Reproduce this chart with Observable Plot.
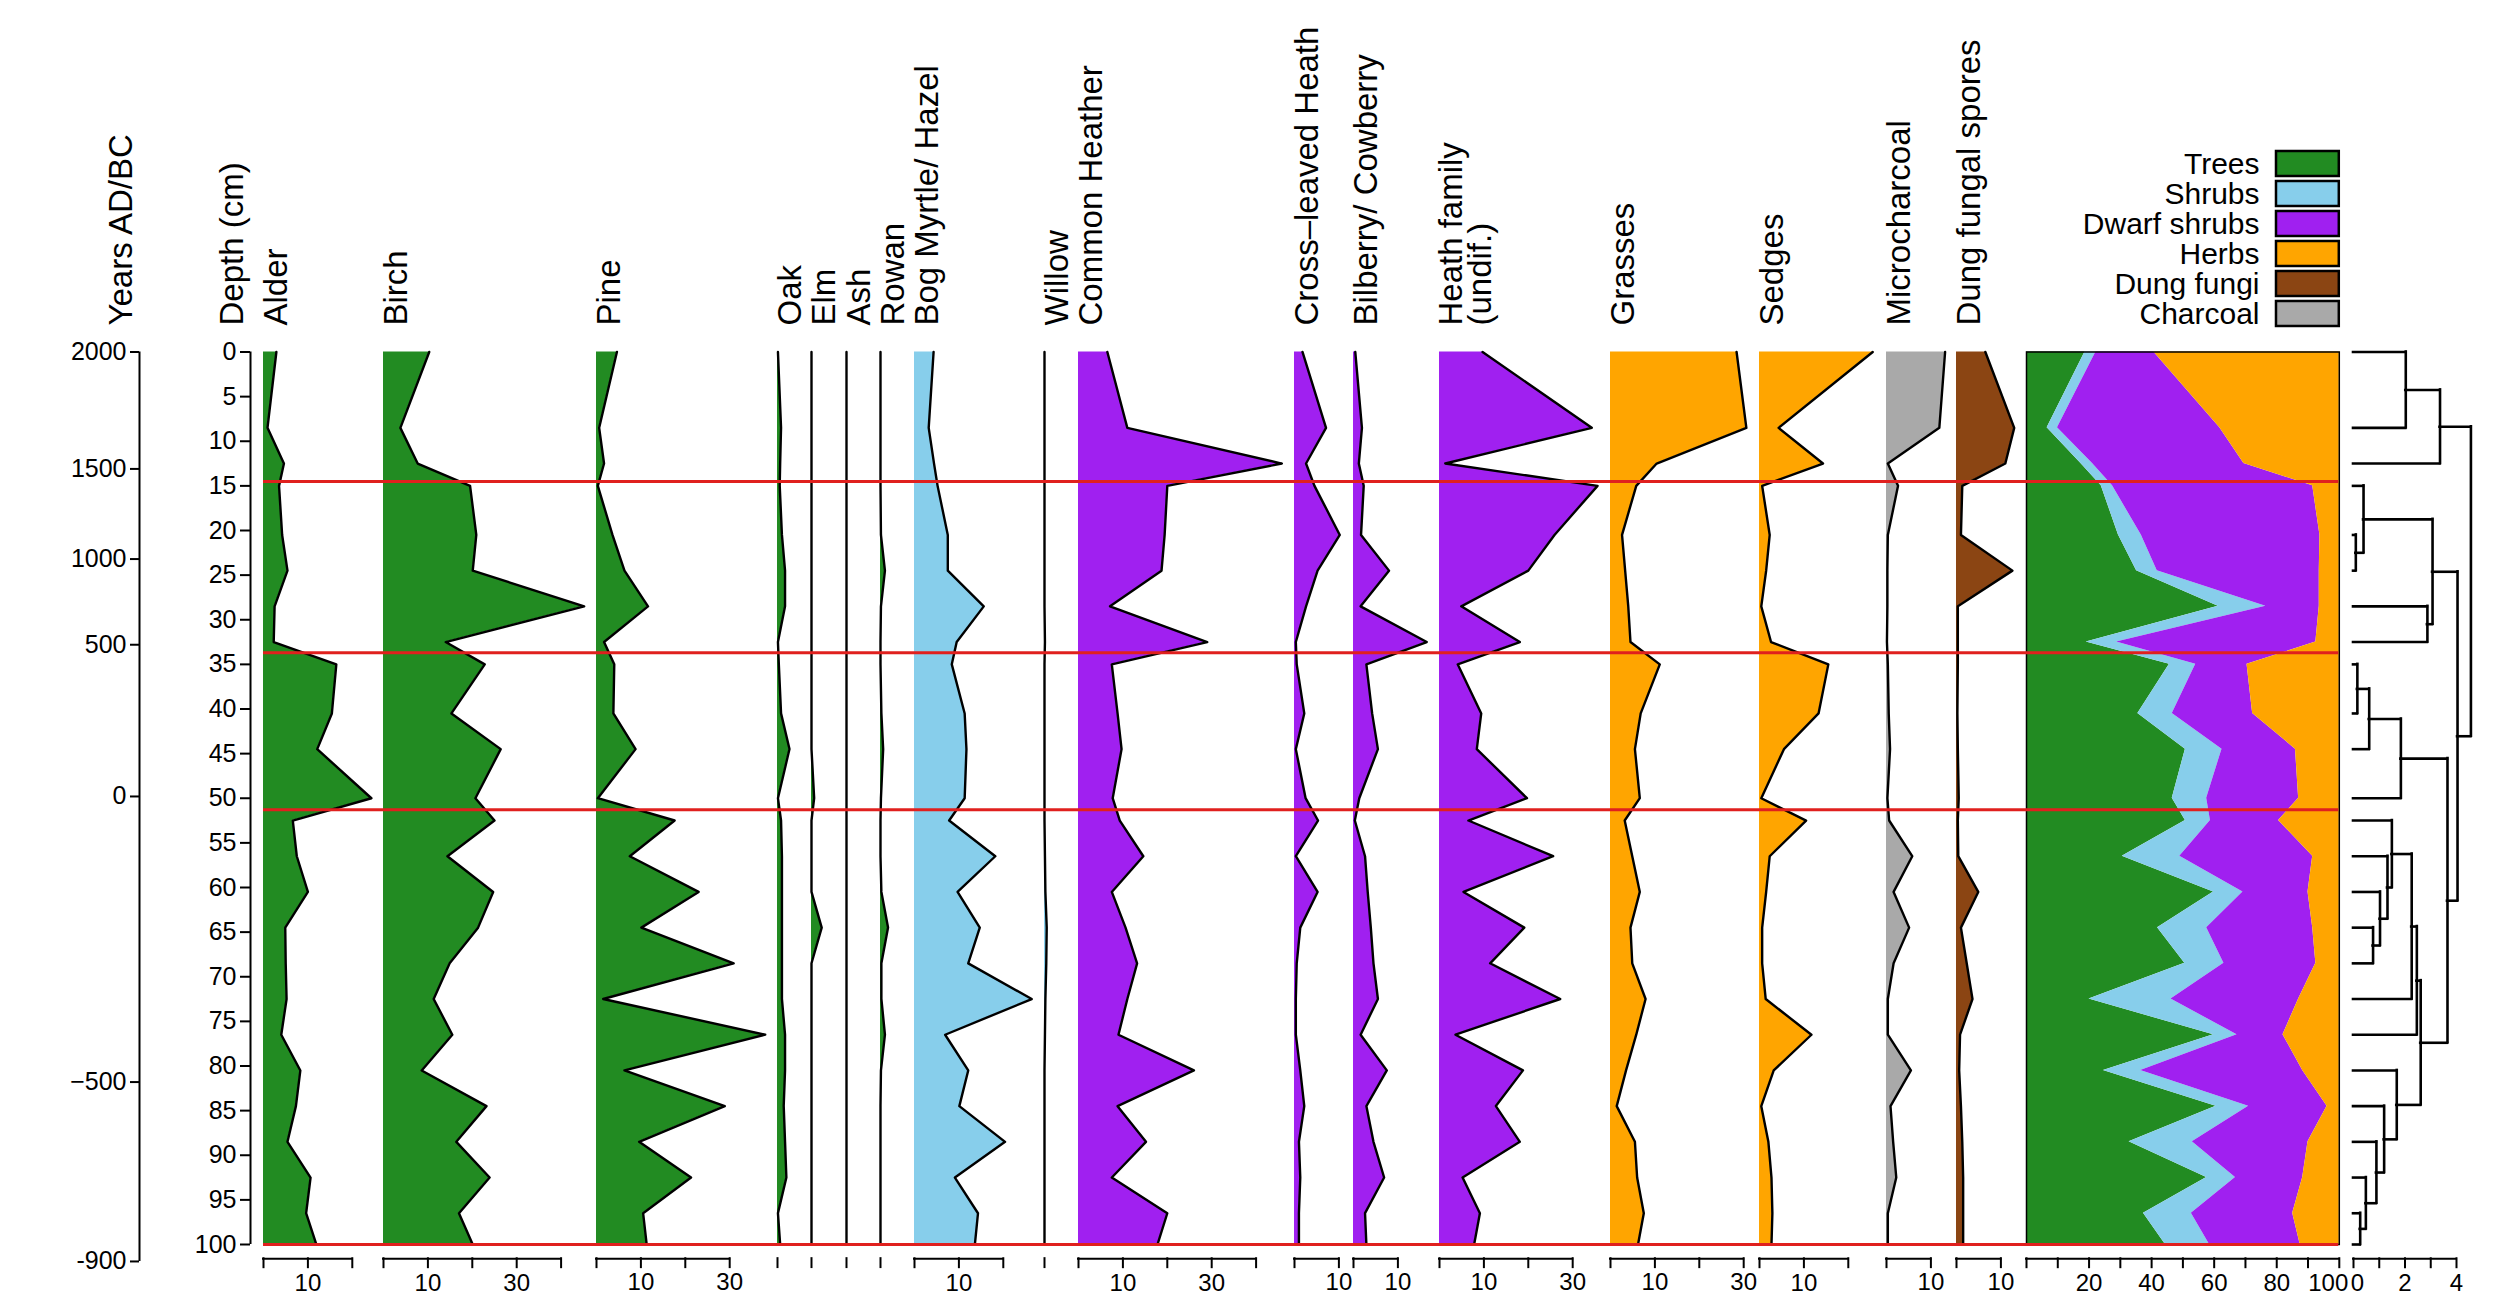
<!DOCTYPE html>
<html><head><meta charset="utf-8">
<script src="https://cdn.jsdelivr.net/npm/d3@7"></script>
<script src="https://cdn.jsdelivr.net/npm/@observablehq/plot@0.6"></script>
<style>
body{margin:0;background:#fff;}
#chart{position:relative;width:2500px;height:1310px;background:#fff;overflow:hidden;}
#chart > div{position:absolute;top:0;}
</style></head><body><div id="chart"></div>
<script>
// ---------- data ----------
const depths = [0, 8.5, 12.5, 15, 20.5, 24.5, 28.5, 32.5, 35, 40.5, 44.5, 50, 52.5, 56.5, 60.5, 64.5, 68.5, 72.5, 76.5, 80.5, 84.5, 88.5, 92.5, 96.5, 100];
const alder = [2.9, 0.9, 4.6, 3.5, 4.2, 5.4, 2.5, 2.3, 16.4, 15.4, 12.1, 24.3, 6.6, 7.5, 10.0, 4.9, 5.0, 5.2, 4.0, 8.3, 7.3, 5.4, 10.6, 9.6, 11.9];
const birch = [10.3, 3.8, 7.7, 19.5, 20.9, 20.1, 45.2, 14.0, 22.8, 15.3, 26.4, 20.7, 25.0, 14.4, 24.7, 21.3, 14.9, 11.3, 15.5, 8.6, 23.2, 16.4, 23.9, 17.0, 20.1];
const pine = [4.6, 0.6, 1.7, 0.3, 3.6, 6.3, 11.6, 1.7, 4.0, 3.8, 8.8, 0.3, 17.6, 7.5, 23.0, 10.1, 30.9, 1.5, 38.0, 6.3, 28.9, 9.6, 21.3, 10.5, 11.3];
const oak = [0.1, 0.8, 0.6, 0.5, 1.0, 1.7, 1.7, 0.1, 0.3, 0.8, 2.7, 0.1, 0.8, 1.0, 1.0, 1.0, 1.0, 1.0, 1.7, 1.7, 1.4, 1.7, 2.0, 0.1, 0.6];
const elm = [0, 0, 0, 0, 0, 0, 0, 0, 0, 0, 0, 0.6, 0, 0, 0, 2.3, 0, 0, 0, 0, 0, 0, 0, 0, 0];
const ash = [0, 0, 0, 0, 0, 0, 0, 0, 0, 0, 0, 0, 0, 0, 0, 0, 0, 0, 0, 0, 0, 0, 0, 0, 0];
const rowan = [0, 0, 0, 0, 0.1, 1.0, 0.1, 0, 0, 0.2, 0.6, 0.1, 0, 0, 0.2, 1.7, 0.2, 0.2, 1.0, 0.1, 0, 0, 0, 0, 0];
const bogMyrtleHazel = [4.3, 3.2, 4.4, 5.2, 7.5, 7.5, 15.6, 9.5, 8.4, 11.3, 11.7, 11.3, 7.8, 18.2, 9.7, 14.7, 12.1, 26.4, 6.9, 12.1, 10.1, 20.4, 9.1, 14.3, 13.6];
const willow = [0, 0, 0, 0, 0, 0, 0, 0.1, 0, 0, 0, 0, 0, 0.1, 0.2, 0.5, 0.4, 0.2, 0.1, 0, 0, 0, 0, 0, 0];
const commonHeather = [6.5, 11.0, 45.8, 20.0, 19.4, 18.7, 7.1, 29.0, 7.5, 8.8, 9.7, 7.7, 9.3, 14.6, 7.5, 10.6, 13.2, 11.0, 9.0, 26.0, 8.8, 15.2, 7.5, 20.0, 17.8];
const crossLeavedHeath = [1.8, 7.1, 2.6, 4.5, 10.2, 5.2, 2.6, 0.3, 0.5, 2.2, 0.3, 2.5, 5.3, 0.3, 5.2, 1.3, 0.5, 0.3, 0.3, 1.3, 2.2, 1.0, 1.3, 1.0, 1.0];
const bilberryCowberry = [0.4, 1.9, 1.2, 2.3, 1.7, 8.0, 1.6, 16.5, 2.9, 4.2, 5.5, 1.3, 0.3, 2.6, 3.2, 3.9, 4.5, 5.5, 1.6, 7.5, 2.9, 4.5, 6.9, 2.6, 2.9];
const heathFamily = [9.7, 34.3, 1.3, 35.6, 25.9, 20.0, 4.9, 18.1, 4.1, 9.4, 8.4, 19.7, 6.5, 25.6, 5.4, 19.1, 11.4, 27.2, 3.6, 18.8, 12.7, 18.1, 5.2, 9.1, 7.8];
const grasses = [28.4, 30.6, 10.4, 5.8, 2.6, 3.3, 4.0, 4.5, 11.1, 6.8, 5.5, 6.6, 3.2, 4.9, 6.6, 4.5, 4.9, 7.9, 5.8, 3.5, 1.4, 5.5, 6.0, 7.5, 6.2];
const sedges = [25.5, 4.3, 14.3, 0.6, 2.3, 1.5, 0.4, 2.6, 15.5, 13.3, 5.5, 0.4, 10.5, 2.3, 1.5, 0.6, 0.6, 1.4, 11.7, 3.2, 0.4, 2.0, 2.7, 2.9, 2.7];
const microcharcoal = [13.2, 11.9, 0.3, 2.6, 0.3, 0.2, 0.2, 0.1, 0.3, 0.5, 0.8, 0.2, 0.6, 5.8, 1.6, 5.1, 1.6, 0.3, 0.3, 5.5, 0.9, 1.5, 2.2, 0.3, 0.3];
const dungFungalSpores = [6.5, 13.0, 11.0, 1.3, 1.0, 12.6, 0.3, 0.3, 0.3, 0.2, 0.3, 0.5, 0.3, 0.4, 4.9, 1.0, 2.3, 3.6, 0.8, 0.6, 1.0, 1.3, 1.5, 1.5, 1.5];

// summary (percent of sum)
const summaryGroups = ["Trees", "Shrubs", "Dwarf shrubs", "Herbs"];
const trees = [18.7, 6.6, 17.4, 23.9, 29.4, 35.2, 61.3, 19.1, 45.7, 35.6, 50.8, 46.6, 50.8, 30.6, 59.8, 41.9, 50.6, 20.0, 59.8, 24.6, 60.6, 32.8, 57.6, 37.4, 44.4];
const shrubs = [3.5, 3.3, 3.7, 3.6, 7.3, 6.6, 15.2, 9.7, 8.4, 11.0, 11.7, 11.0, 8.0, 18.4, 9.4, 15.7, 12.5, 26.2, 7.5, 11.9, 10.4, 20.2, 9.2, 15.3, 14.1];
const dwarfShrubs = [18.5, 51.9, 48.4, 64.0, 57.1, 51.8, 17.1, 63.7, 16.4, 25.7, 23.5, 29.4, 21.8, 42.5, 20.8, 33.9, 29.4, 40.8, 14.7, 51.8, 25.1, 37.0, 21.5, 32.4, 29.0];
const herbs = [59.3, 38.2, 30.5, 8.5, 6.2, 6.4, 6.4, 7.5, 29.5, 27.7, 14.0, 13.0, 19.4, 8.5, 10.0, 8.5, 7.5, 13.0, 18.0, 11.7, 3.9, 10.0, 11.7, 14.9, 12.5];

const legendGroups = ["Trees", "Shrubs", "Dwarf shrubs", "Herbs", "Dung fungi", "Charcoal"];
const groupColors = ["#228B22", "#87CEEB", "#A020F0", "#FFA500", "#8B4513", "#A9A9A9"];

const zoneDepths = [14.5, 33.7, 51.3, 100];
// age-depth model: calendar ages and the depths (cm) they correspond to
const ageTicks = [2000, 1500, 1000, 500, 0, -500, -900];
const ageLabels = ["2000", "1500", "1000", "500", "0", "−500", "-900"];
const ageDepths = [0, 13.1, 23.2, 32.8, 49.8, 81.8, 101.9];
const depthTicks = d3.range(0, 101, 5);

// CONISS dendrogram (leaves = sample depths, h = total sum of squares)
const coniss = {h: 4.56, c: [
  {h: 3.36, c: [{h: 2.03, c: [0, 8.5]}, 12.5]},
  {h: 4.04, c: [
    {h: 3.07, c: [{h: 0.39, c: [15, {h: 0.09, c: [20.5, 24.5]}]}, {h: 2.87, c: [28.5, 32.5]}]},
    {h: 3.65, c: [
      {h: 1.84, c: [{h: 0.61, c: [{h: 0.15, c: [35, 40.5]}, 44.5]}, 50]},
      {h: 2.61, c: [
        {h: 2.46, c: [{h: 2.26, c: [{h: 1.49, c: [52.5, {h: 1.32, c: [56.5, {h: 1.03, c: [60.5, {h: 0.76, c: [64.5, 68.5]}]}]}]}, 72.5]}, 76.5]},
        {h: 1.68, c: [80.5, {h: 1.19, c: [84.5, {h: 0.89, c: [88.5, {h: 0.48, c: [92.5, {h: 0.26, c: [96.5, 100]}]}]}]}]}
      ]}
    ]}
  ]}
]};

// ---------- layout ----------
const GREEN = groupColors[0], SKY = groupColors[1], PURPLE = groupColors[2], ORANGE = groupColors[3], BROWN = groupColors[4], GRAY = groupColors[5];
const TOP = 351.5, BOT = 1244, H = 1310, PX = 4.44;
const AX_LINE = 101.6, AX_TICK = 102.6, AX_TEXT = 104.3;
const FONT = "'Liberation Sans', Arial, Helvetica, sans-serif";
const chart = document.getElementById("chart");
const baseStyle = {fontFamily: FONT, background: "transparent", overflow: "visible", color: "black"};
const Y = {domain: [0, 100], reverse: true, axis: null};

function place(svg, left, width) {
  const div = document.createElement("div");
  div.style.left = left + "px";
  div.style.width = width + "px";
  div.appendChild(svg);
  chart.appendChild(div);
}
function frameOpts(width, ml, mr) {
  return {width, height: H, marginTop: TOP, marginBottom: H - BOT, marginLeft: ml, marginRight: mr, style: baseStyle};
}
function bottomAxis(ticks, labels, lineMax, shifts = {}) {
  return [
    lineMax != null ? Plot.ruleY([AX_LINE], {x1: 0, x2: lineMax, stroke: "black", strokeWidth: 2, strokeLinecap: "square"}) : null,
    Plot.ruleX(ticks, {x: d => d, y1: AX_LINE, y2: AX_TICK, stroke: "black", strokeWidth: 2, strokeLinecap: "square"}),
    ...labels.map(l => Plot.text([l], {x: d => d, y: AX_TEXT, text: d => String(d), dx: shifts[l] || 0, fontSize: 24, lineAnchor: "middle", fill: "black"}))
  ];
}
function nameLabel(name, dx, lineHeight = 1) {
  return Plot.text([name], {x: 0, y: 0, text: d => d, dx, dy: -26.5, rotate: -90, textAnchor: "start", lineAnchor: "bottom", fontSize: 33, lineHeight, fill: "black"});
}

// ---------- year axis (ages placed at their model depths) ----------
{
  const ML = 110, MR = 10;
  const svg = Plot.plot({
    ...frameOpts(ML + MR + 10, ML, MR),
    x: {domain: [0, 1], axis: null},
    y: Y,
    marks: [
      Plot.ruleX([0], {y1: ageDepths[0], y2: ageDepths[ageDepths.length - 1], stroke: "black", strokeWidth: 2}),
      Plot.axisY(ageDepths, {anchor: "left", tickSize: 9, tickPadding: 4, fontSize: 25, strokeWidth: 2, label: null, tickFormat: d => ageLabels[ageDepths.indexOf(d)]}),
      nameLabel("Years AD/BC", -8)
    ]
  });
  place(svg, 138.5 - ML, ML + MR + 10);
}

// ---------- depth axis ----------
{
  const ML = 80, MR = 10;
  const svg = Plot.plot({
    ...frameOpts(ML + MR + 10, ML, MR),
    x: {domain: [0, 1], axis: null},
    y: Y,
    marks: [
      Plot.ruleX([0], {y1: 0, y2: 100, stroke: "black", strokeWidth: 2}),
      Plot.axisY(depthTicks, {anchor: "left", tickSize: 10, tickPadding: 4, fontSize: 25, strokeWidth: 2, label: null}),
      nameLabel("Depth (cm)", -8)
    ]
  });
  place(svg, 249.5 - ML, ML + MR + 10);
}

// ---------- taxon panels ----------
const panels = [
  {name: "Alder", x0: 263, values: alder, fill: GREEN, max: 20},
  {name: "Birch", x0: 382.7, values: birch, fill: GREEN, max: 40},
  {name: "Pine", x0: 596, values: pine, fill: GREEN, max: 30},
  {name: "Oak", x0: 776.8, values: oak, fill: GREEN, max: 0},
  {name: "Elm", x0: 811, values: elm, fill: GREEN, max: 0},
  {name: "Ash", x0: 845.5, values: ash, fill: GREEN, max: 0},
  {name: "Rowan", x0: 879.5, values: rowan, fill: GREEN, max: 0},
  {name: "Bog Myrtle/ Hazel", x0: 913.6, values: bogMyrtleHazel, fill: SKY, max: 20},
  {name: "Willow", x0: 1043.5, values: willow, fill: SKY, max: 0},
  {name: "Common Heather", x0: 1077.8, values: commonHeather, fill: PURPLE, max: 40},
  {name: "Cross–leaved Heath", x0: 1293.8, values: crossLeavedHeath, fill: PURPLE, max: 10},
  {name: "Bilberry/ Cowberry", x0: 1352.5, values: bilberryCowberry, fill: PURPLE, max: 10},
  {name: "Heath family\n(undif.)", x0: 1438.5, values: heathFamily, fill: PURPLE, max: 30, labelDx: 52, lineHeight: 0.88},
  {name: "Grasses", x0: 1610, values: grasses, fill: ORANGE, max: 30},
  {name: "Sedges", x0: 1758.8, values: sedges, fill: ORANGE, max: 20},
  {name: "Microcharcoal", x0: 1885.6, values: microcharcoal, fill: GRAY, max: 10},
  {name: "Dung fungal spores", x0: 1955.7, values: dungFungalSpores, fill: BROWN, max: 10}
];

for (const p of panels) {
  const dom = p.max || 5;
  const ML = 30, MR = 90;
  const w = dom * PX;
  const rows = depths.map((d, i) => ({depth: d, value: p.values[i]}));
  const ticks = p.max ? d3.range(0, p.max + 1e-9, 10) : [0];
  const labels = ticks.filter(t => t % 20 === 10);
  const svg = Plot.plot({
    ...frameOpts(w + ML + MR, ML, MR),
    x: {domain: [0, dom], axis: null},
    y: Y,
    marks: [
      Plot.areaX(rows, {y: "depth", x1: 0, x2: "value", fill: p.fill}),
      Plot.lineX(rows, {y: "depth", x: "value", stroke: "black", strokeWidth: 2.4}),
      ...bottomAxis(ticks, labels, p.max ? p.max : null),
      nameLabel(p.name, p.labelDx ?? 24, p.lineHeight ?? 1)
    ]
  });
  place(svg, p.x0 - ML, w + ML + MR);
}

// ---------- summary panel ----------
{
  const ML = 10, MR = 10, w = 2338.3 - 2025.5;
  const series = [trees, shrubs, dwarfShrubs, herbs];
  const rows = [];
  summaryGroups.forEach((g, k) => depths.forEach((d, i) => rows.push({depth: d, group: g, value: series[k][i]})));
  const svg = Plot.plot({
    ...frameOpts(w + ML + MR, ML, MR),
    x: {domain: [0, 100], axis: null},
    y: Y,
    color: {domain: legendGroups, range: groupColors},
    marks: [
      Plot.areaX(rows, {y: "depth", x: "value", fill: "group", order: summaryGroups}),
      Plot.frame({stroke: "black", strokeWidth: 1.5}),
      ...bottomAxis(d3.range(0, 101, 10), d3.range(20, 101, 20), 100, {100: -11})
    ]
  });
  place(svg, 2025.5 - ML, w + ML + MR);
}

// ---------- legend ----------
{
  const ML = 320, MR = 10, w = 2338.3 - 2275.5;
  const svg = Plot.plot({
    width: ML + w + MR, height: 400, marginTop: 0, marginBottom: 0, marginLeft: ML, marginRight: MR, style: baseStyle,
    x: {domain: [0, 1], axis: null},
    y: {type: "band", domain: legendGroups, range: [143.1, 333.4], padding: 0.16, axis: null},
    color: {domain: legendGroups, range: groupColors},
    marks: [
      Plot.barX(legendGroups, {x1: 0, x2: 1, y: d => d, fill: d => d, stroke: "black", strokeWidth: 2.5}),
      Plot.text(legendGroups, {x: 0, y: d => d, text: d => d, dx: -17, textAnchor: "end", lineAnchor: "middle", fontSize: 30, fill: "black"})
    ]
  });
  place(svg, 2275.5 - ML, ML + w + MR);
}

// ---------- dendrogram ----------
{
  const dendroV = [], dendroH = [];
  (function walk(n) {
    if (typeof n === "number") return {y: n, h: 0};
    const a = walk(n.c[0]), b = walk(n.c[1]);
    dendroV.push({x: n.h, y1: a.y, y2: b.y});
    dendroH.push({y: a.y, x1: a.h, x2: n.h}, {y: b.y, x1: b.h, x2: n.h});
    return {y: (a.y + b.y) / 2, h: n.h};
  })(coniss);
  const ML = 10, MR = 40, w = 4 * 25.75;
  const svg = Plot.plot({
    ...frameOpts(w + ML + MR, ML, MR),
    x: {domain: [0, 4], axis: null},
    y: Y,
    marks: [
      Plot.ruleY(dendroH, {y: "y", x1: "x1", x2: "x2", stroke: "black", strokeWidth: 2.6, strokeLinecap: "square"}),
      Plot.ruleX(dendroV, {x: "x", y1: "y1", y2: "y2", stroke: "black", strokeWidth: 2.6, strokeLinecap: "square"}),
      ...bottomAxis([0, 1, 2, 3, 4], [0, 2, 4], 4, {0: 4})
    ]
  });
  place(svg, 2352.7 - ML, w + ML + MR);
}

// ---------- zone boundaries ----------
{
  const w = 2338.3 - 263;
  const svg = Plot.plot({
    ...frameOpts(w, 0, 0),
    x: {domain: [0, 1], axis: null},
    y: Y,
    marks: [Plot.ruleY(zoneDepths, {stroke: "#E0201E", strokeWidth: 3})]
  });
  place(svg, 263, w);
}
</script></body></html>
